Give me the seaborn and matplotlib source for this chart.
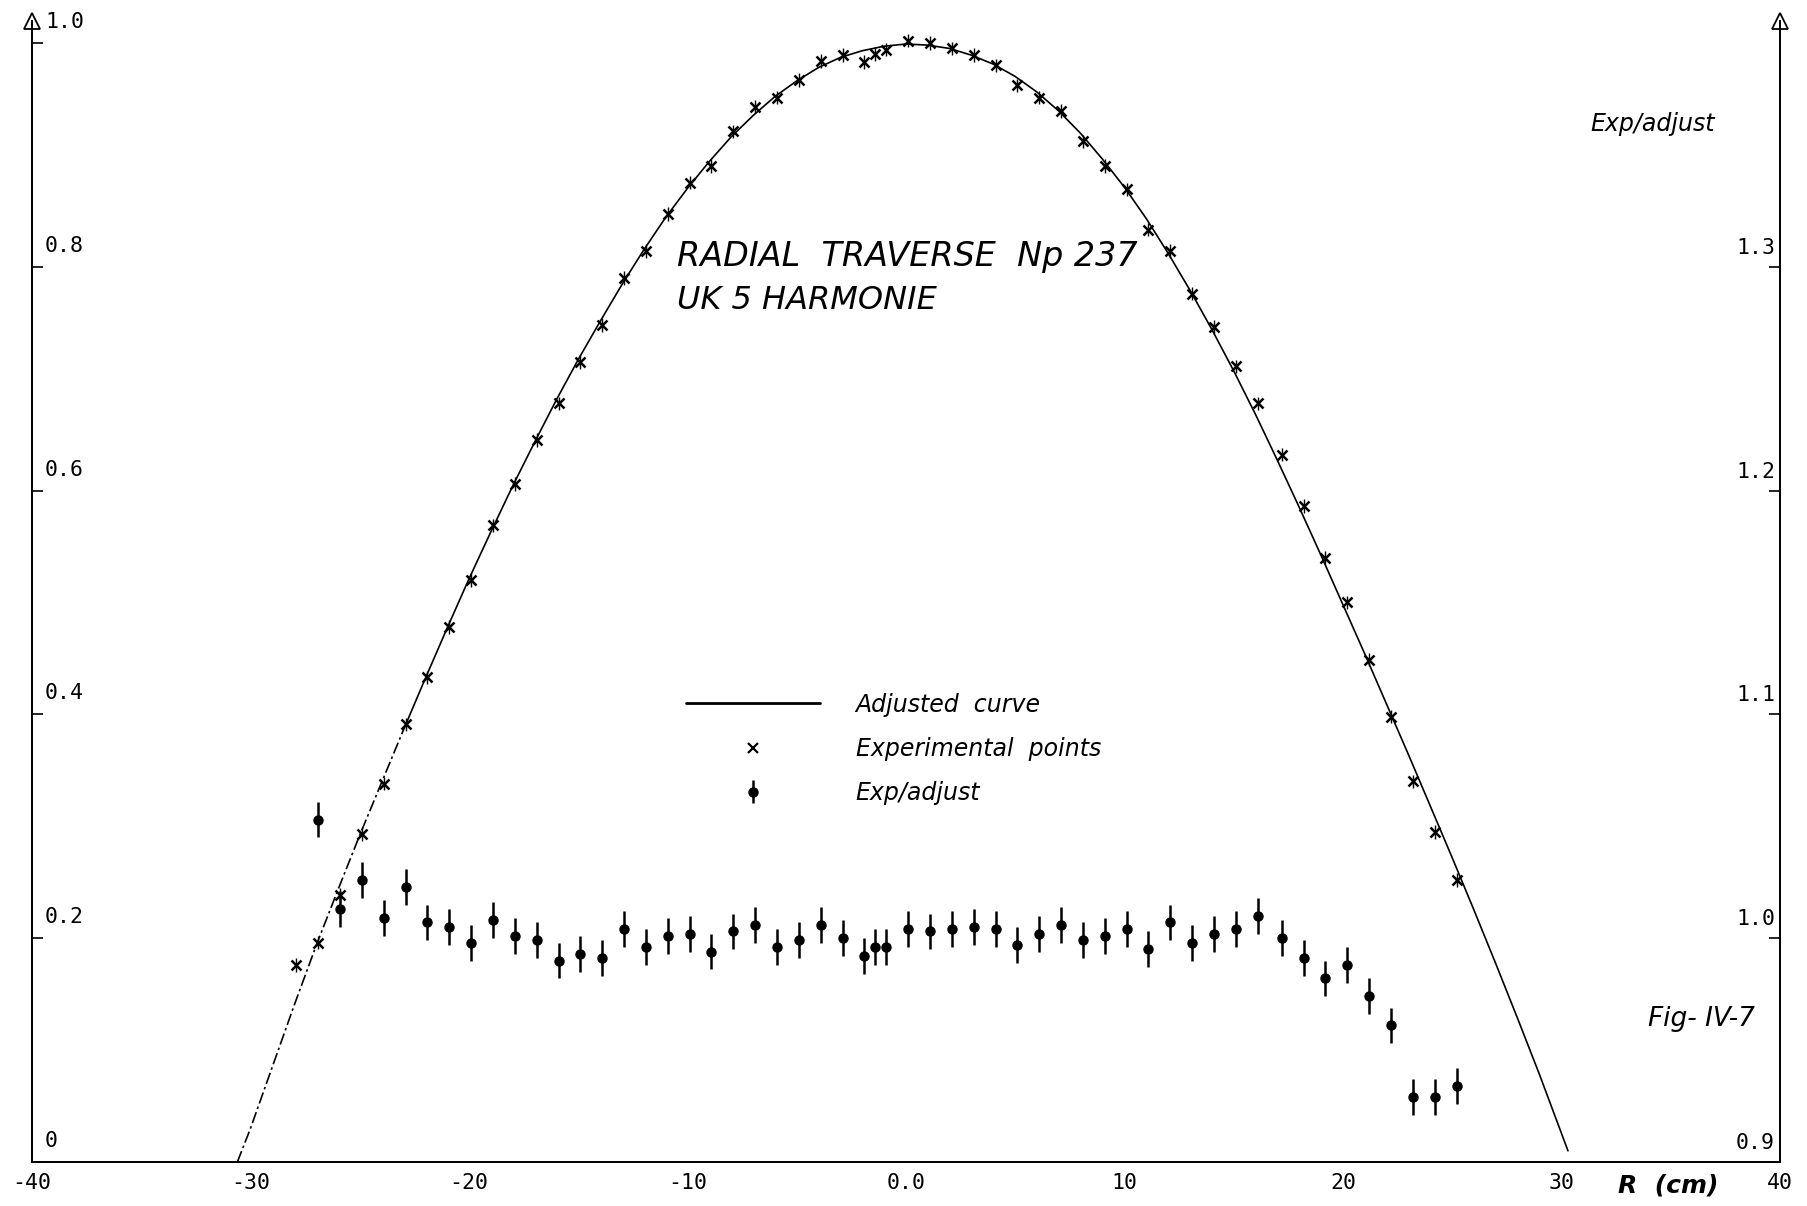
import matplotlib
matplotlib.use("Agg")
import matplotlib.pyplot as plt
import matplotlib.transforms as mtransforms
from matplotlib.lines import Line2D
import seaborn as sns
import pandas as pd

# adjusted curve (left axis)
curve_r = [-30.6, -30.0, -29.0, -28.0, -27.0, -26.0, -25.0, -24.0, -23.0, -22.0,
           -21.0, -20.0, -19.0, -18.0, -17.0, -16.0, -15.0, -14.0, -13.0, -12.0,
           -11.0, -10.0, -9.0, -8.0, -7.0, -6.0, -5.0, -4.0, -3.0, -2.0,
           -1.0, 0.0, 1.0, 2.0, 3.0, 4.0, 5.0, 6.0, 7.0, 8.0,
           9.0, 10.0, 11.0, 12.0, 13.0, 14.0, 15.0, 16.0, 17.0, 18.0,
           19.0, 20.0, 21.0, 22.0, 23.0, 24.0, 25.0, 26.0, 27.0, 28.0,
           29.0, 30.3]
curve_val = [0.0, 0.03, 0.085, 0.140, 0.193, 0.243, 0.292, 0.339, 0.386, 0.432,
             0.477, 0.521, 0.563, 0.604, 0.643, 0.681, 0.717, 0.751, 0.784, 0.815,
             0.844, 0.870, 0.894, 0.916, 0.935, 0.952, 0.966, 0.978, 0.987, 0.993,
             0.997, 0.999, 0.998, 0.995, 0.989, 0.981, 0.970, 0.956, 0.939, 0.919,
             0.896, 0.871, 0.843, 0.812, 0.779, 0.744, 0.707, 0.668, 0.627, 0.585,
             0.542, 0.498, 0.454, 0.409, 0.364, 0.318, 0.272, 0.225, 0.177, 0.128,
             0.078, 0.010]

# experimental points (left axis)
exp_r = [-27.9, -26.9, -25.9, -24.9, -23.9, -22.9, -21.9, -20.9, -19.9, -18.9,
         -17.9, -16.9, -15.9, -14.9, -13.9, -12.9, -11.9, -10.9, -9.9, -8.9,
         -7.9, -6.9, -5.9, -4.9, -3.9, -2.9, -1.9, -1.4, -0.9, 0.1,
         1.1, 2.1, 3.1, 4.1, 5.1, 6.1, 7.1, 8.1, 9.1, 10.1,
         11.1, 12.1, 13.1, 14.1, 15.1, 16.1, 17.2, 18.2, 19.2, 20.2,
         21.2, 22.2, 23.2, 24.2, 25.2]
exp_val = [0.176, 0.196, 0.239, 0.293, 0.338, 0.391, 0.433, 0.478, 0.520, 0.569,
           0.606, 0.645, 0.678, 0.715, 0.748, 0.790, 0.814, 0.847, 0.875, 0.890,
           0.921, 0.943, 0.951, 0.967, 0.984, 0.989, 0.983, 0.990, 0.994, 1.002,
           1.000, 0.995, 0.989, 0.980, 0.962, 0.951, 0.939, 0.912, 0.890, 0.869,
           0.833, 0.814, 0.776, 0.746, 0.711, 0.678, 0.632, 0.586, 0.540, 0.500,
           0.449, 0.398, 0.340, 0.295, 0.252]

# exp / adjusted ratio (right axis)
ratio_r = exp_r[1:]
ratio_val = [1.053, 1.013, 1.026, 1.009, 1.023, 1.007, 1.005, 0.998, 1.008, 1.001,
             0.999, 0.990, 0.993, 0.991, 1.004, 0.996, 1.001, 1.002, 0.994, 1.003,
             1.006, 0.996, 0.999, 1.006, 1.000, 0.992, 0.996, 0.996, 1.004, 1.003,
             1.004, 1.005, 1.004, 0.997, 1.002, 1.006, 0.999, 1.001, 1.004, 0.995,
             1.007, 0.998, 1.002, 1.004, 1.010, 1.000, 0.991, 0.982, 0.988, 0.974,
             0.961, 0.929, 0.929, 0.934]
RATIO_ERR = 0.008
EXP_ERR = 0.006

x_ticks = [-40, -30, -20, -10, 0, 10, 20, 30, 40]
x_labels = ["-40", "-30", "-20", "-10", "0.0", "10", "20", "30", "40"]
left_ticks = [0.0, 0.2, 0.4, 0.6, 0.8, 1.0]
left_labels = ["0", "0.2", "0.4", "0.6", "0.8", "1.0"]
right_ticks = [0.9, 1.0, 1.1, 1.2, 1.3]
right_labels = ["0.9", "1.0", "1.1", "1.2", "1.3"]

sns.set_theme(style="white")
plt.rcParams["font.family"] = ["DejaVu Sans"]
plt.rcParams["text.color"] = "black"
plt.rcParams["xtick.color"] = "black"
plt.rcParams["ytick.color"] = "black"

curve = pd.DataFrame({"r": curve_r, "val": curve_val})
low = curve[curve["r"] <= -23.0]
high = curve[curve["r"] >= -23.0]

fig = plt.figure(figsize=(18.07, 12.06), dpi=100)
ax = fig.add_axes([0.0177, 0.0365, 0.9673, 0.9465])
ax2 = ax.twinx()

sns.lineplot(data=high, x="r", y="val", ax=ax, color="black", lw=1.2, sort=False)
sns.lineplot(data=low, x="r", y="val", ax=ax, color="black", lw=1.2, sort=False,
             linestyle=(0, (7, 2, 1.5, 2)))
ax.errorbar(exp_r, exp_val, yerr=EXP_ERR, fmt="x", color="black", ms=6.5, mew=1.8,
            elinewidth=1.0, capsize=0)

eb = ax2.errorbar(ratio_r, ratio_val, yerr=RATIO_ERR, fmt="o", color="black",
                  ms=6.5, mfc="black", mec="black", elinewidth=1.8, capsize=0)

ax.set_xlim(-40, 40)
ax.set_ylim(0, 1.02)
ax2.set_ylim(0.9, 1.41)

mono = {"family": "DejaVu Sans Mono", "size": 15.5, "color": "black"}
ax.set_xticks(x_ticks)
ax.set_xticklabels(x_labels, fontdict=mono)
ax.tick_params(axis="x", direction="in", length=9, width=1.2, pad=8, color="black")
ax.set_yticks(left_ticks)
ax.set_yticklabels([])
ax.tick_params(axis="y", direction="in", length=8, width=1.2, color="black")
ax2.set_yticks(right_ticks)
ax2.set_yticklabels([])
ax2.tick_params(axis="y", direction="in", length=8, width=1.2, color="black")
ax.set_xlabel("")
ax.set_ylabel("")
ax.grid(False)
ax2.grid(False)

for a in (ax, ax2):
    a.spines["top"].set_visible(False)
    for s in ("left", "right", "bottom"):
        a.spines[s].set_color("black")
        a.spines[s].set_linewidth(1.3)

left_tr = mtransforms.offset_copy(ax.get_yaxis_transform(), fig=fig, x=13, y=21, units="dots")
for v, lab in zip(left_ticks, left_labels):
    ax.text(0, v, lab, transform=left_tr, ha="left", va="center", **mono)
right_tr = mtransforms.offset_copy(ax2.get_yaxis_transform(), fig=fig, x=-5, y=19, units="dots")
for v, lab in zip(right_ticks, right_labels):
    ax2.text(1, v, lab, transform=right_tr, ha="right", va="center", **mono)

# open arrow heads on top of both vertical axes
for xa in (0, 1):
    ax.plot([xa], [1.0], marker="^", ms=12, mfc="white", mec="black", mew=1.3,
            transform=ax.transAxes, clip_on=False)

handles = [Line2D([], [], color="black", lw=2.0),
           Line2D([], [], color="black", marker="x", ls="none", ms=7, mew=1.6),
           eb]
ax2.legend(handles, ["Adjusted  curve", "Experimental  points", "Exp/adjust"],
           loc="center left", bbox_to_anchor=(0.374, 0.362), frameon=False,
           prop={"style": "italic", "size": 17}, handlelength=5.7,
           handletextpad=1.5, labelspacing=0.85, borderaxespad=0, borderpad=0)

fig.text(0.3747, 0.7877, "RADIAL  TRAVERSE  Np 237", fontsize=24, style="italic",
         ha="left", va="center")
fig.text(0.3747, 0.7512, "UK 5 HARMONIE", fontsize=23, style="italic",
         ha="left", va="center")
fig.text(0.880, 0.897, "Exp/adjust", fontsize=17, style="italic", ha="left", va="center")
fig.text(0.912, 0.155, "Fig- IV-7", fontsize=19, style="italic", ha="left", va="center")
fig.text(0.923, 0.0174, "R  (cm)", fontsize=18, style="italic", weight="bold",
         ha="center", va="center")

fig.savefig("out.png", dpi=100, facecolor="white")
